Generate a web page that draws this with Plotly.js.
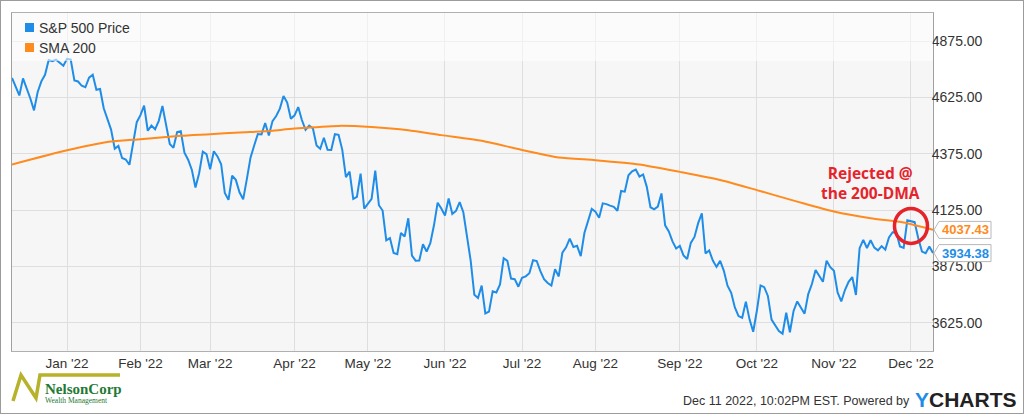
<!DOCTYPE html>
<html>
<head>
<meta charset="utf-8">
<script src="https://cdn.plot.ly/plotly-3.0.1.min.js"></script>
<style>
html,body{margin:0;padding:0;background:#fff;}
#wrap{width:1024px;height:414px;box-sizing:border-box;border:1px solid #9c9c9c;overflow:hidden;}
#chart{width:1022px;height:412px;}
</style>
</head>
<body>
<div id="wrap"><div id="chart"></div></div>
<script>
// ---------- DATA ----------
const startDate = '2021-12-10';
const endDate = '2022-12-09';
const marketHolidays = ['2021-12-24','2022-01-17','2022-02-21','2022-04-15','2022-05-30',
  '2022-06-20','2022-07-04','2022-09-05','2022-11-24'];

// S&P 500 daily closes (trading days, Dec 10 2021 - Dec 9 2022)
const closes = [
  // Dec 2021
  4712.02,4668.97,4634.09,4709.85,4668.67,4620.64,4568.02,4649.23,4696.56,4725.79,4791.19,4786.35,4793.06,4778.73,4766.18,
  // Jan 2022
  4796.56,4793.54,4700.58,4696.05,4677.03,4670.29,4713.07,4726.35,4659.03,4662.85,4577.11,4532.76,4482.73,4397.94,4410.13,4356.45,4349.93,4326.51,4431.85,4515.55,
  // Feb
  4546.54,4589.38,4477.44,4500.53,4483.87,4521.54,4587.18,4504.08,4418.64,4401.67,4471.07,4475.01,4380.26,4348.87,4304.76,4225.50,4288.70,4384.65,4373.94,
  // Mar
  4306.26,4386.54,4363.49,4328.87,4201.09,4170.70,4277.88,4259.52,4204.31,4173.11,4262.45,4357.86,4411.67,4463.12,4461.18,4511.61,4456.24,4520.16,4543.06,4575.52,4631.60,4602.45,4530.41,
  // Apr
  4545.86,4582.64,4525.12,4481.15,4500.21,4488.28,4412.53,4397.45,4446.59,4392.59,4391.69,4462.21,4459.45,4393.66,4271.78,4296.12,4175.20,4183.96,4287.50,4131.93,
  // May
  4155.38,4175.48,4300.17,4146.87,4123.34,3991.24,4001.05,3935.18,3930.08,4023.89,4008.01,4088.85,3923.68,3900.79,3901.36,3973.75,3941.48,3978.73,4057.84,4158.24,4132.15,
  // Jun
  4101.23,4176.82,4108.54,4121.43,4160.68,4115.77,4017.82,3900.86,3749.63,3735.48,3789.99,3666.77,3674.84,3764.79,3759.89,3795.73,3911.74,3900.11,3821.55,3818.83,3785.38,
  // Jul
  3825.33,3831.39,3845.08,3902.62,3899.38,3854.43,3818.80,3801.78,3790.38,3863.16,3830.85,3936.69,3959.90,3998.95,3961.63,3966.84,3921.05,4023.61,4072.43,4130.29,
  // Aug
  4118.63,4091.19,4155.17,4151.94,4145.19,4140.06,4122.47,4210.24,4207.27,4280.15,4297.14,4305.20,4274.04,4283.74,4228.48,4137.99,4128.73,4140.77,4199.12,4057.66,4030.61,3986.16,3955.00,
  // Sep
  3966.85,3924.26,3908.19,3979.87,4006.18,4067.36,4110.41,3932.69,3946.01,3901.35,3873.33,3899.89,3855.93,3789.93,3757.99,3693.23,3655.04,3647.29,3719.04,3640.47,3585.62,
  // Oct
  3678.43,3790.93,3783.28,3744.52,3639.66,3612.39,3588.84,3577.03,3669.91,3583.07,3677.95,3719.98,3695.16,3665.78,3752.75,3797.34,3859.11,3830.60,3807.30,3901.06,3871.98,
  // Nov
  3856.10,3759.69,3719.89,3770.55,3806.80,3828.11,3748.57,3956.37,3992.93,3957.25,3991.73,3958.79,3946.56,3965.34,3949.94,4003.58,4027.26,4026.12,3963.94,3957.63,4080.11,
  // Dec
  4076.57,4071.70,3998.84,3941.26,3933.92,3963.51,3934.38
];

// SMA 200
const smaDates = ['2021-12-10','2022-01-03','2022-01-19','2022-02-01','2022-02-16','2022-03-01','2022-03-11',
  '2022-03-22','2022-04-01','2022-04-20','2022-05-03','2022-05-17','2022-05-31','2022-06-15','2022-06-30',
  '2022-07-18','2022-08-01','2022-08-17','2022-09-01','2022-09-19','2022-10-03','2022-10-18','2022-11-01',
  '2022-11-15','2022-11-29','2022-12-09'];
const smaValues = [4328,4391,4428,4440,4455,4462,4470,
  4475,4487,4499,4494,4480,4458,4433,4396,
  4359,4347,4328,4295,4259,4214,4163,4119,
  4089,4070,4037.43];

const monthTicks = ['2022-01-03','2022-02-01','2022-03-01','2022-04-01','2022-05-02','2022-06-01',
  '2022-07-01','2022-08-01','2022-09-01','2022-10-03','2022-11-01','2022-12-01'];
const monthLabels = ["Jan '22","Feb '22","Mar '22","Apr '22","May '22","Jun '22",
  "Jul '22","Aug '22","Sep '22","Oct '22","Nov '22","Dec '22"];
const yTicks = [3625,3875,4125,4375,4625,4875];
const seriesNames = ['S&P 500 Price','SMA 200'];
const lastPrice = 3934.38;
const lastSma = 4037.43;
const rejectDate = '2022-12-01';
const rejectLevel = 4055;

// ---------- BUILD ----------
function tradingDays(start, end, holidays){
  const out=[]; const d=new Date(start+'T00:00:00Z'); const e=new Date(end+'T00:00:00Z');
  while(d<=e){
    const dow=d.getUTCDay(); const s=d.toISOString().slice(0,10);
    if(dow!==0 && dow!==6 && holidays.indexOf(s)<0) out.push(s);
    d.setUTCDate(d.getUTCDate()+1);
  }
  return out;
}
const dates = tradingDays(startDate, endDate, marketHolidays);

const BLUE = '#1f8de8';
const ORANGE = '#ff8a1d';
const RED = '#e5232b';
const FONT = '"Liberation Sans", Arial, sans-serif';

const traces = [
  {x: dates, y: closes, type:'scatter', mode:'lines', name: seriesNames[0],
   line:{color:BLUE, width:2}},
  {x: smaDates, y: smaValues, type:'scatter', mode:'lines', name: seriesNames[1],
   line:{color:ORANGE, width:2, shape:'spline', smoothing:0.6}}
];

// geometry helpers (plot area: image x 12..933, y 13..351)
const PW = 921, PH = 338;
function px(imgX){ return (imgX-12)/PW; }
function py(imgY){ return (351-imgY)/PH; }

function valueTag(v){
  return {type:'path', xref:'paper', yref:'y', xsizemode:'pixel', ysizemode:'pixel',
    xanchor:1, yanchor:v, layer:'above',
    path:'M1,0 L6,8.5 L58,8.5 L58,-8.5 L6,-8.5 Z',
    fillcolor:'#ffffff', line:{color:'#b8b8b8', width:1}};
}

const shapes = [
  // translucent legend band
  {type:'rect', xref:'paper', yref:'paper', x0:0, x1:1, y0:py(61), y1:1,
   fillcolor:'rgba(255,255,255,0.55)', line:{width:0}, layer:'above'},
  // legend squares
  {type:'rect', xref:'paper', yref:'paper', xsizemode:'pixel', ysizemode:'pixel',
   xanchor:0, yanchor:1, x0:13, x1:22, y0:-10, y1:-19, fillcolor:BLUE, line:{width:0}, layer:'above'},
  {type:'rect', xref:'paper', yref:'paper', xsizemode:'pixel', ysizemode:'pixel',
   xanchor:0, yanchor:1, x0:13, x1:22, y0:-30, y1:-39, fillcolor:ORANGE, line:{width:0}, layer:'above'},
  // red circle
  {type:'circle', xref:'x', yref:'y', xsizemode:'pixel', ysizemode:'pixel',
   xanchor: dates.indexOf(rejectDate), yanchor: rejectLevel, x0:-16.5, x1:16.5, y0:-17.5, y1:17.5,
   line:{color:RED, width:3.5}, layer:'above'},
  valueTag(lastSma),
  valueTag(lastPrice),
  // NelsonCorp logo mark
  {type:'path', xref:'paper', yref:'paper', xsizemode:'pixel', ysizemode:'pixel',
   xanchor:0, yanchor:0, layer:'above',
   path:'M1,-50 L9,-24 L24,-47 L28,-24 L108,-24',
   line:{color:'#b6b22a', width:3.5}}
];

const annotations = [
  {xref:'paper', yref:'paper', x:0, y:1, xshift:25, yshift:-14.5, xanchor:'left', yanchor:'middle',
   text:seriesNames[0], showarrow:false, font:{family:FONT, size:14, color:'#333'}},
  {xref:'paper', yref:'paper', x:0, y:1, xshift:25, yshift:-34.5, xanchor:'left', yanchor:'middle',
   text:seriesNames[1], showarrow:false, font:{family:FONT, size:14, color:'#333'}},
  {xref:'paper', yref:'y', x:1, y:lastSma, xshift:32, xanchor:'center', yanchor:'middle',
   text:'<b>'+lastSma.toFixed(2)+'</b>', showarrow:false, font:{family:FONT, size:13, color:ORANGE}},
  {xref:'paper', yref:'y', x:1, y:lastPrice, xshift:32, xanchor:'center', yanchor:'middle',
   text:'<b>'+lastPrice.toFixed(2)+'</b>', showarrow:false, font:{family:FONT, size:13, color:BLUE}},
  {xref:'paper', yref:'paper', x:px(870), y:py(182.5), xanchor:'center', yanchor:'middle',
   text:'<b>Rejected @</b><br><b>the 200-DMA</b>', showarrow:false, align:'center',
   font:{family:'"Open Sans", sans-serif', size:15.5, color:RED}},
  {xref:'paper', yref:'paper', x:px(912), y:py(401), xanchor:'right', yanchor:'middle',
   text:'Dec 11 2022, 10:02PM EST. Powered by', showarrow:false,
   font:{family:FONT, size:12.5, color:'#333'}},
  {xref:'paper', yref:'paper', x:px(913), y:py(399), xanchor:'left', yanchor:'middle',
   text:'<b><span style="color:'+BLUE+'">Y</span>CHARTS</b>', showarrow:false,
   font:{family:FONT, size:21, color:'#222'}},
  {xref:'paper', yref:'paper', x:px(43), y:py(389), xanchor:'left', yanchor:'middle',
   text:'<b>NelsonCorp</b>', showarrow:false,
   font:{family:'"Liberation Serif", "DejaVu Serif", serif', size:15, color:'#1f7a34'}},
  {xref:'paper', yref:'paper', x:px(43), y:py(400), xanchor:'left', yanchor:'middle',
   text:'Wealth Management', showarrow:false,
   font:{family:'"Liberation Serif", serif', size:7.5, color:'#1f7a34'}}
];

const layout = {
  width:1022, height:412,
  margin:{l:11, r:90, t:12, b:62, pad:0},
  paper_bgcolor:'#ffffff', plot_bgcolor:'#f6f6f6',
  showlegend:false,
  font:{family:FONT, size:13.5, color:'#333'},
  xaxis:{type:'category', categoryorder:'array', categoryarray:dates,
    range:[0, dates.length-1], tickmode:'array',
    tickvals: monthTicks.map(d=>dates.indexOf(d)), ticktext: monthLabels, tickangle:0,
    showgrid:true, gridcolor:'#dedede', gridwidth:1, ticks:'',
    showline:true, linecolor:'#b0b0b0', linewidth:1, mirror:true, zeroline:false,
    tickfont:{family:FONT, size:13.5, color:'#333'}},
  yaxis:{side:'right', range:[3500,5000], tickmode:'array', tickvals:yTicks, tickformat:'.2f',
    showgrid:true, gridcolor:'#dedede', gridwidth:1, ticks:'', ticklen:0, ticklabelstandoff:-5,
    showline:true, linecolor:'#a0a0a0', linewidth:1, mirror:true, zeroline:false,
    tickfont:{family:FONT, size:14, color:'#333'}},
  shapes: shapes,
  annotations: annotations
};

Plotly.newPlot('chart', traces, layout, {displayModeBar:false, staticPlot:true});
</script>
</body>
</html>
